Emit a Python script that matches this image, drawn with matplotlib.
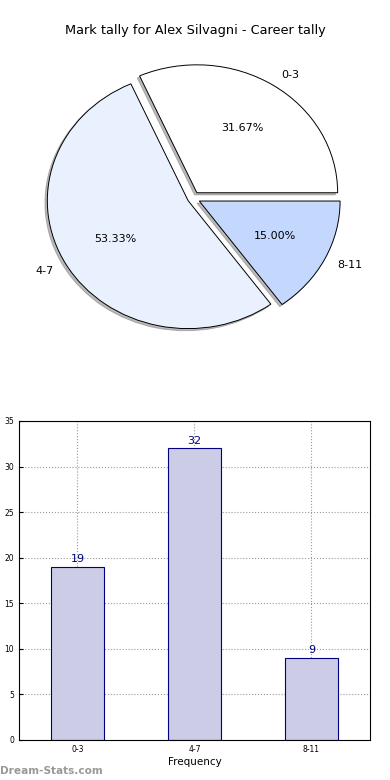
import matplotlib
matplotlib.use("Agg")
import matplotlib.pyplot as plt

categories = ["0-3", "4-7", "8-11"]
counts = [19, 32, 9]
pie_colors = ["#ffffff", "#eaf1fe", "#c4d8fe"]
title = "Mark tally for Alex Silvagni - Career tally"

fig = plt.figure(figsize=(3.9, 7.8), dpi=100)

# Pie
axp = fig.add_axes([0.0436, 0.541, 0.9026, 0.41])
wedges, texts, autotexts = axp.pie(
    counts, labels=categories, colors=pie_colors, explode=[0.05, 0.04, 0.05],
    autopct="%1.2f%%", shadow=dict(ox=-0.012, oy=-0.012, color="#777777"),
    startangle=0, counterclock=True,
    wedgeprops=dict(edgecolor="black", linewidth=0.7),
    textprops=dict(fontsize=8))
axp.set_aspect("auto")
axp.set_xlim(-1.25, 1.25)
axp.set_ylim(-1.25, 1.25)
fig.text(0.5, 0.961, title, ha="center", va="center", fontsize=9.3)

# Bar
axb = fig.add_axes([0.0487, 0.0513, 0.9, 0.409])
x = list(range(len(categories)))
bars = axb.bar(x, counts, width=0.45, color="#ccccE6", edgecolor="#000080", linewidth=0.8, zorder=2)
for xi, c in zip(x, counts):
    axb.text(xi, c + 0.3, str(c), ha="center", va="bottom", fontsize=8, color="#000080")
axb.set_xlim(-0.5, 2.5)
axb.set_ylim(0, 35)
axb.set_xticks(x)
axb.set_xticklabels(categories)
axb.set_yticks(range(0, 36, 5))
axb.tick_params(labelsize=5.5, direction="in", length=3)
axb.grid(True, linestyle=":", color="#999999", linewidth=0.8, zorder=0)
axb.set_axisbelow(True)
axb.set_xlabel("Frequency", fontsize=7.5, labelpad=2)
axb.set_ylabel("Occurrences", fontsize=7.5)
axb.yaxis.set_label_coords(-0.06, 0.5)

fig.text(0.0, 0.012, "Dream-Stats.com", fontsize=7.6, color="#999999", fontweight="bold", ha="left", va="center")

fig.savefig("out.png", dpi=100)
